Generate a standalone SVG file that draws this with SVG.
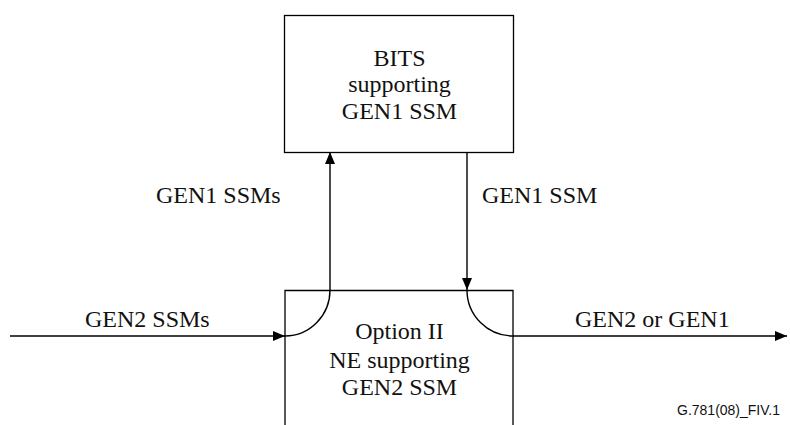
<svg xmlns="http://www.w3.org/2000/svg" width="790" height="425" viewBox="0 0 790 425">
<defs>
<style>
.box{fill:none;stroke:#000;stroke-width:1.3}
.ln{fill:none;stroke:#000;stroke-width:1.4}
.t{font-family:"Liberation Serif","Times New Roman",serif;font-size:24px;fill:#111}
.c{text-anchor:middle}
.id{font-family:"Liberation Sans",Arial,sans-serif;font-size:14px;fill:#111;text-anchor:end}
</style>
<marker id="ah" markerUnits="userSpaceOnUse" markerWidth="12" markerHeight="10" refX="12" refY="5" orient="auto">
<path d="M0,0 L12,5 L0,10 z" fill="#000"/>
</marker>
</defs>
<rect width="790" height="425" fill="#fff"/>
<g id="bits">
<rect class="box" x="284.5" y="15.5" width="229" height="137"/>
<text class="t c" x="399.5" y="66">BITS</text>
<text class="t c" x="399.5" y="92">supporting</text>
<text class="t c" x="399.5" y="119">GEN1 SSM</text>
</g>
<g id="ne">
<path class="box" d="M285,425 L285,290.5 L513,290.5 L513,425"/>
<text class="t c" x="399.5" y="339">Option II</text>
<text class="t c" x="399.5" y="368">NE supporting</text>
<text class="t c" x="399.5" y="395">GEN2 SSM</text>
</g>
<g id="connectors">
<path class="ln" d="M10,336 L285,336" marker-end="url(#ah)"/>
<path class="ln" d="M285,336 A45,46 0 0 0 330,290 L330,152" marker-end="url(#ah)"/>
<path class="ln" d="M467,152 L467,290" marker-end="url(#ah)"/>
<path class="ln" d="M467,290 A46,46 0 0 0 513,336 L787,336" marker-end="url(#ah)"/>
</g>
<g id="labels">
<text class="t" x="156" y="203">GEN1 SSMs</text>
<text class="t" x="482" y="203">GEN1 SSM</text>
<text class="t" x="85" y="327">GEN2 SSMs</text>
<text class="t" x="575" y="327">GEN2 or GEN1</text>
<text class="id" x="780" y="415">G.781(08)_FIV.1</text>
</g>
</svg>
